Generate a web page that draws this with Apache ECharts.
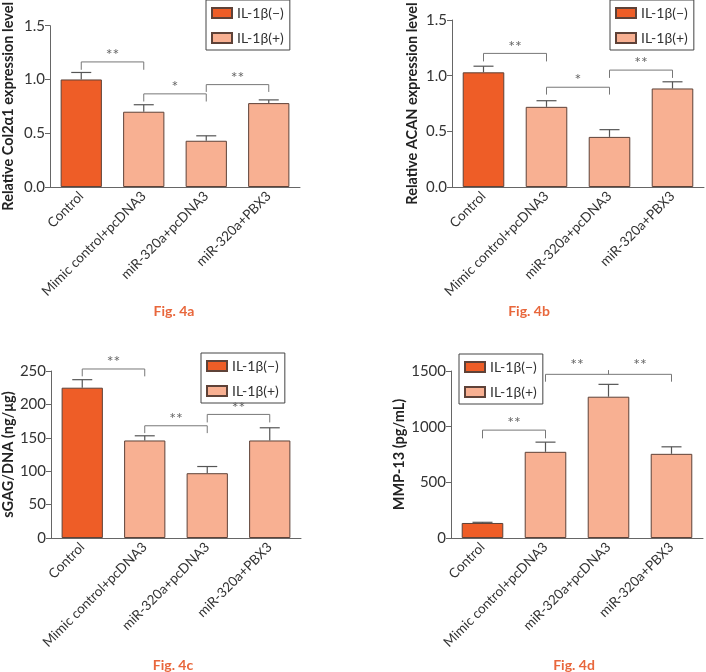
<!DOCTYPE html>
<html><head><meta charset="utf-8">
<script src="https://cdn.jsdelivr.net/npm/echarts@6/dist/echarts.min.js"></script>
<style>html,body{margin:0;padding:0;background:#fff}#c{width:706px;height:672px}</style>
</head><body><div id="c"></div>
<script>
const categories = ['Control', 'Mimic control+pcDNA3', 'miR-320a+pcDNA3', 'miR-320a+PBX3'];
const legendNames = ['IL-1\u03b2(\u2212)', 'IL-1\u03b2(+)'];

const col2Mean = [1.00, 0.70, 0.43, 0.78];
const col2Upper = [1.065, 0.765, 0.476, 0.81];
const acanMean = [1.03, 0.72, 0.45, 0.885];
const acanUpper = [1.085, 0.775, 0.515, 0.945];
const sgagMean = [225, 146, 97, 146];
const sgagUpper = [237, 153, 107, 165];
const mmpMean = [135, 774, 1269, 756];
const mmpUpper = [141, 861, 1380, 819];

// brackets: [from, to, lineValue, tickBottomValue, label, (midIndex, midTickTop)]
const col2Brackets = [[0, 1, 1.163, 1.09, '**'], [1, 2, 0.866, 0.795, '*'], [2, 3, 0.952, 0.884, '**']];
const acanBrackets = [[0, 1, 1.20, 1.128, '**'], [1, 2, 0.896, 0.83, '*'], [2, 3, 1.05, 0.98, '**']];
const sgagBrackets = [[0, 1, 253, 242, '**'], [1, 2, 168, 157, '**'], [2, 3, 185, 173, '**']];
const mmpBrackets = [[0, 1, 969, 895, '**'], [1, 3, 1470, 1404, '**', 2, 1508]];

const yNames = ['Relative Col2\u03b11 expression level', 'Relative ACAN expression level', 'sGAG/DNA (ng/\u03bcg)', 'MMP-13 (pg/mL)'];
const yMax = [1.5, 1.5, 250, 1500];
const yInterval = [0.5, 0.5, 50, 500];
const captions = ['Fig. 4a', 'Fig. 4b', 'Fig. 4c', 'Fig. 4d'];

const panels = [
  {mean: col2Mean, upper: col2Upper, br: col2Brackets, dec: 1},
  {mean: acanMean, upper: acanUpper, br: acanBrackets, dec: 1},
  {mean: sgagMean, upper: sgagUpper, br: sgagBrackets, dec: 0},
  {mean: mmpMean, upper: mmpUpper, br: mmpBrackets, dec: 0}
];

const FONT = 'Lato';
const DARK = '#ee5d27';
const LIGHT = '#f8b092';
const BORDER = '#5e4238';
const AXIS = '#666';
const BR = '#777';

const grids = [
  {left: 50, top: 19, width: 250, height: 168},
  {left: 452, top: 20, width: 252, height: 167},
  {left: 49, top: 371, width: 252, height: 167},
  {left: 451, top: 371, width: 252, height: 167}
];
const nameGaps = [34, 32, 33, 42];
const legendPos = [{left: 206, top: 0}, {left: 610, top: 0}, {left: 201, top: 353}, {left: 459, top: 354}];
const captionPos = [[174, 311], [529, 311], [173, 665], [574, 665]];

const xAxes = [], yAxes = [], series = [], legends = [];
panels.forEach((p, k) => {
  xAxes.push({
    type: 'category', gridIndex: k, data: categories,
    axisLine: {lineStyle: {color: AXIS, width: 1}},
    axisTick: {alignWithLabel: true, length: 5, lineStyle: {color: AXIS}},
    axisLabel: {rotate: 45, fontSize: 13.5, color: '#333', fontFamily: FONT, margin: 7, interval: 0}
  });
  yAxes.push({
    type: 'value', gridIndex: k, min: 0, max: yMax[k], interval: yInterval[k],
    name: yNames[k], nameLocation: 'middle', nameGap: nameGaps[k],
    nameTextStyle: {fontSize: 14.5, fontWeight: 'bold', color: '#222', fontFamily: FONT},
    axisLine: {show: true, lineStyle: {color: AXIS, width: 1}},
    axisTick: {show: true, length: 5, lineStyle: {color: AXIS}},
    splitLine: {show: false},
    axisLabel: {fontSize: 15, color: '#333', fontFamily: FONT, margin: 5,
      formatter: v => v.toFixed(p.dec)}
  });
  series.push({
    type: 'bar', name: legendNames[0], xAxisIndex: k, yAxisIndex: k,
    data: p.mean.map((v, i) => i === 0 ? v : '-'),
    barWidth: '66%', barGap: '-100%',
    itemStyle: {color: DARK, borderColor: BORDER, borderWidth: 1}
  });
  series.push({
    type: 'bar', name: legendNames[1], xAxisIndex: k, yAxisIndex: k,
    data: p.mean.map((v, i) => i === 0 ? '-' : v),
    barWidth: '66%', barGap: '-100%',
    itemStyle: {color: LIGHT, borderColor: BORDER, borderWidth: 1}
  });
  series.push({
    type: 'custom', xAxisIndex: k, yAxisIndex: k, silent: true, z: 5,
    data: p.mean.map((v, i) => [i, v, p.upper[i]]),
    encode: {x: 0, y: [1, 2]},
    renderItem: (params, api) => {
      const i = api.value(0);
      const a = api.coord([i, api.value(1)]);
      const b = api.coord([i, api.value(2)]);
      const half = 10;
      const st = {stroke: '#555', lineWidth: 1.2};
      return {type: 'group', children: [
        {type: 'line', shape: {x1: a[0], y1: a[1], x2: b[0], y2: b[1]}, style: st},
        {type: 'line', shape: {x1: b[0] - half, y1: b[1], x2: b[0] + half, y2: b[1]}, style: st}
      ]};
    }
  });
  series.push({
    type: 'custom', xAxisIndex: k, yAxisIndex: k, silent: true, clip: false, z: 6,
    data: p.br.map(b => [b[0], b[2]]),
    encode: {x: 0, y: 1},
    renderItem: (params, api) => {
      const b = p.br[params.dataIndex];
      const L = api.coord([b[0], b[2]]);
      const R = api.coord([b[1], b[2]]);
      const Lb = api.coord([b[0], b[3]]);
      const st = {stroke: BR, lineWidth: 1, fill: null};
      const ts = (x, y) => ({type: 'text', x: x, y: y, style: {text: b[4], fill: '#666', fontSize: 16, fontFamily: FONT, align: 'center', verticalAlign: 'middle'}});
      const ch = [
        {type: 'polyline', shape: {points: [[L[0], Lb[1]], [L[0], L[1]], [R[0], R[1]], [R[0], Lb[1]]]}, style: st}
      ];
      if (b.length > 5) {
        const M = api.coord([b[5], b[2]]);
        const Mt = api.coord([b[5], b[6]]);
        ch.push({type: 'line', shape: {x1: M[0], y1: M[1], x2: Mt[0], y2: Mt[1]}, style: st});
        ch.push(ts((L[0] + M[0]) / 2, L[1] - 9));
        ch.push(ts((M[0] + R[0]) / 2, L[1] - 9));
      } else {
        ch.push(ts((L[0] + R[0]) / 2, L[1] - 7));
      }
      return {type: 'group', children: ch};
    }
  });
  legends.push(Object.assign({
    data: legendNames, orient: 'vertical', selectedMode: false,
    itemWidth: 20, itemHeight: 10, itemGap: 11,
    borderColor: '#444', borderWidth: 1, padding: [6, 6, 5, 5],
    textStyle: {fontSize: 14, color: '#333', fontFamily: FONT},
    icon: 'rect'
  }, legendPos[k]));
});

const graphics = captions.map((t, k) => ({
  type: 'text', x: captionPos[k][0], y: captionPos[k][1],
  style: {text: t, fill: '#e8673c', fontSize: 14, fontWeight: 'bold', fontFamily: FONT, align: 'center', verticalAlign: 'middle'}
}));

const chart = echarts.init(document.getElementById('c'), null, {renderer: 'canvas'});
chart.setOption({
  animation: false,
  textStyle: {fontFamily: FONT},
  grid: grids,
  xAxis: xAxes,
  yAxis: yAxes,
  legend: legends,
  series: series,
  graphic: graphics
});
</script></body></html>
